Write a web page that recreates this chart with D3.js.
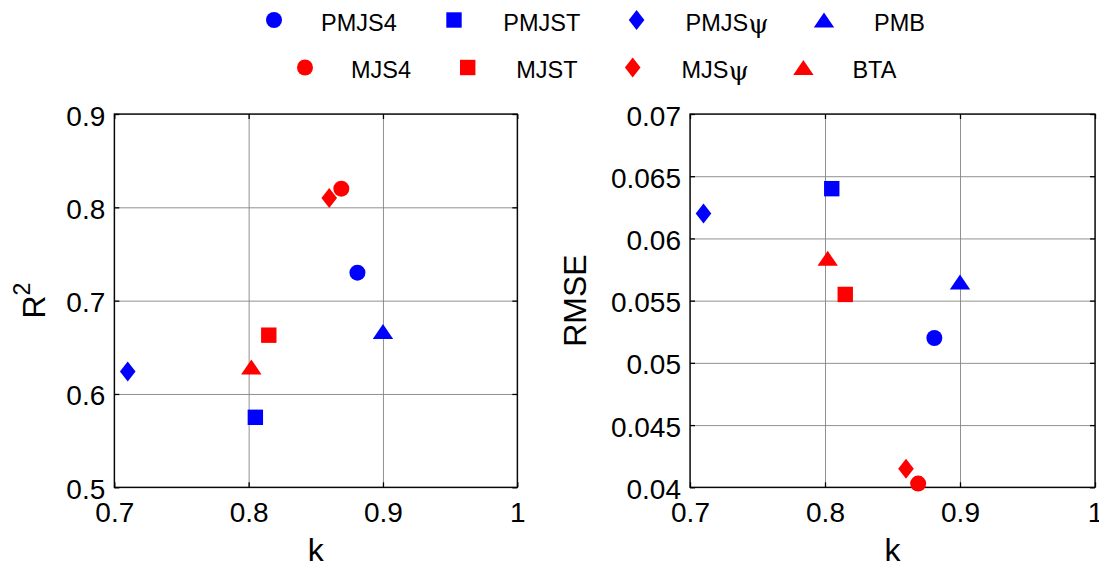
<!DOCTYPE html>
<html>
<head>
<meta charset="utf-8">
<script src="https://d3js.org/d3.v7.min.js"></script>
<style>
  body { margin: 0; background: #fff; }
  text { font-family: "Liberation Sans", Arial, sans-serif; fill: #000; }
</style>
</head>
<body>
<div id="container"></div>
<script>
// data
var methods  = ["PMJS4", "PMJST", "PMJSψ", "PMB", "MJS4", "MJST", "MJSψ", "BTA"];
var kValues  = [0.881, 0.805, 0.710, 0.900, 0.869, 0.815, 0.860, 0.802];
var r2Values = [0.730, 0.575, 0.624, 0.667, 0.820, 0.663, 0.810, 0.629];
var rmseValues = [0.0520, 0.0640, 0.0620, 0.0565, 0.0403, 0.0555, 0.0415, 0.0584];
var shapes = ["circle", "square", "diamond", "triangle", "circle", "square", "diamond", "triangle"];
var colors = ["#0000ff", "#0000ff", "#0000ff", "#0000ff", "#ff0000", "#ff0000", "#ff0000", "#ff0000"];

var kTicks    = [0.7, 0.8, 0.9, 1];
var r2Ticks   = [0.5, 0.6, 0.7, 0.8, 0.9];
var rmseTicks = [0.04, 0.045, 0.05, 0.055, 0.06, 0.065, 0.07];

var width = 1099, height = 567;
var top0 = 114, bottom0 = 487.3;

var svg = d3.select("#container").append("svg")
    .attr("width", width)
    .attr("height", height);

function shapePath(s) {
  switch (s) {
    case "circle":   return "M8,0A8,8 0 1,1 -8,0A8,8 0 1,1 8,0Z";
    case "square":   return "M-7.7,-7.7H7.7V7.7H-7.7Z";
    case "diamond":  return "M0,-10L7.8,0L0,10L-7.8,0Z";
    case "triangle": return "M0,-7.5L10.2,7.5L-10.2,7.5Z";
  }
}

// write a method name, putting the psi in a serif face like the original
function writeName(sel, name) {
  var base = name.replace("ψ", "");
  sel.append("tspan").text(base);
  if (name.indexOf("ψ") >= 0) {
    sel.append("tspan")
      .style("font-family", "'DejaVu Serif', 'Liberation Serif', serif")
      .style("font-size", "26px")
      .attr("dy", 2)
      .text("ψ");
  }
}

function panel(left, right, yDomain, yTicks, yValues, yLabel, yLabelX) {
  var x = d3.scaleLinear().domain([0.7, 1]).range([left, right]);
  var y = d3.scaleLinear().domain(yDomain).range([bottom0, top0]);
  var h = bottom0 - top0, w = right - left;
  var g = svg.append("g");
  var fmt = d3.format("~g");

  // grid
  g.append("g").attr("transform", "translate(0," + bottom0 + ")")
    .call(d3.axisBottom(x).tickValues(kTicks).tickSize(-h).tickFormat(""))
    .call(function(a) { a.select(".domain").remove(); a.selectAll("line").attr("stroke", "#858585").attr("stroke-width", 0.9); });
  g.append("g").attr("transform", "translate(" + left + ",0)")
    .call(d3.axisLeft(y).tickValues(yTicks).tickSize(-w).tickFormat(""))
    .call(function(a) { a.select(".domain").remove(); a.selectAll("line").attr("stroke", "#858585").attr("stroke-width", 0.9); });

  // axes with inward ticks
  var xb = g.append("g").attr("transform", "translate(0," + bottom0 + ")")
    .call(d3.axisBottom(x).tickValues(kTicks).tickSizeInner(-5).tickSizeOuter(0).tickPadding(14.5).tickFormat(fmt));
  var yl = g.append("g").attr("transform", "translate(" + left + ",0)")
    .call(d3.axisLeft(y).tickValues(yTicks).tickSizeInner(-5).tickSizeOuter(0).tickPadding(9).tickFormat(fmt));
  g.append("g").attr("transform", "translate(0," + top0 + ")")
    .call(d3.axisTop(x).tickValues(kTicks).tickSizeInner(-5).tickSizeOuter(0).tickFormat(""));
  g.append("g").attr("transform", "translate(" + right + ",0)")
    .call(d3.axisRight(y).tickValues(yTicks).tickSizeInner(-5).tickSizeOuter(0).tickFormat(""));
  g.selectAll(".domain").remove();
  g.selectAll(".tick line").filter(function() { return d3.select(this).attr("stroke") === "currentColor"; })
    .attr("stroke", "#000").attr("stroke-width", 1.3);
  [xb, yl].forEach(function(a) {
    a.selectAll("text").style("font-size", "28px")
      .style("font-family", "'Liberation Sans', Arial, sans-serif").attr("fill", "#000");
  });
  yl.selectAll("text").attr("dy", 11);

  g.append("rect")
    .attr("x", left).attr("y", top0).attr("width", w).attr("height", h)
    .attr("fill", "none").attr("stroke", "#000").attr("stroke-width", 1.3);

  // axis titles
  g.append("text")
    .attr("x", (left + right) / 2).attr("y", 561)
    .attr("text-anchor", "middle").style("font-size", "32px")
    .text("k");
  var yt = g.append("text")
    .attr("transform", "translate(" + yLabelX + "," + ((top0 + bottom0) / 2) + ") rotate(-90)")
    .attr("text-anchor", "middle").style("font-size", "32px");
  if (yLabel === "R2") {
    yt.append("tspan").text("R");
    yt.append("tspan").attr("dy", -15).style("font-size", "23px").text("2");
  } else {
    yt.text(yLabel);
  }

  // markers
  g.selectAll("path.mark")
    .data(methods)
    .enter().append("path")
    .attr("class", "mark")
    .attr("transform", function(d, i) { return "translate(" + x(kValues[i]) + "," + y(yValues[i]) + ")"; })
    .attr("d", function(d, i) { return shapePath(shapes[i]); })
    .attr("fill", function(d, i) { return colors[i]; });
}

panel(114.3, 517.3, [0.5, 0.9], r2Ticks, r2Values, "R2", 45);
panel(690, 1095, [0.04, 0.07], rmseTicks, rmseValues, "RMSE", 586);

// legend, two rows of four
var legendMarkX = [274, 454, 636.6, 824, 305, 467.7, 632.7, 803.4];
var legendTextX = [321, 503.3, 685.6, 874, 351, 516.3, 681.5, 852.4];
var legendRowY  = [20, 67.5];

var leg = svg.append("g");
methods.forEach(function(m, i) {
  var row = i < 4 ? 0 : 1;
  leg.append("path")
    .attr("transform", "translate(" + legendMarkX[i] + "," + legendRowY[row] + ")")
    .attr("d", shapePath(shapes[i]))
    .attr("fill", colors[i]);
  var t = leg.append("text")
    .attr("x", legendTextX[i]).attr("y", legendRowY[row] + 10.8)
    .style("font-size", "23.5px");
  writeName(t, m);
});
</script>
</body>
</html>
